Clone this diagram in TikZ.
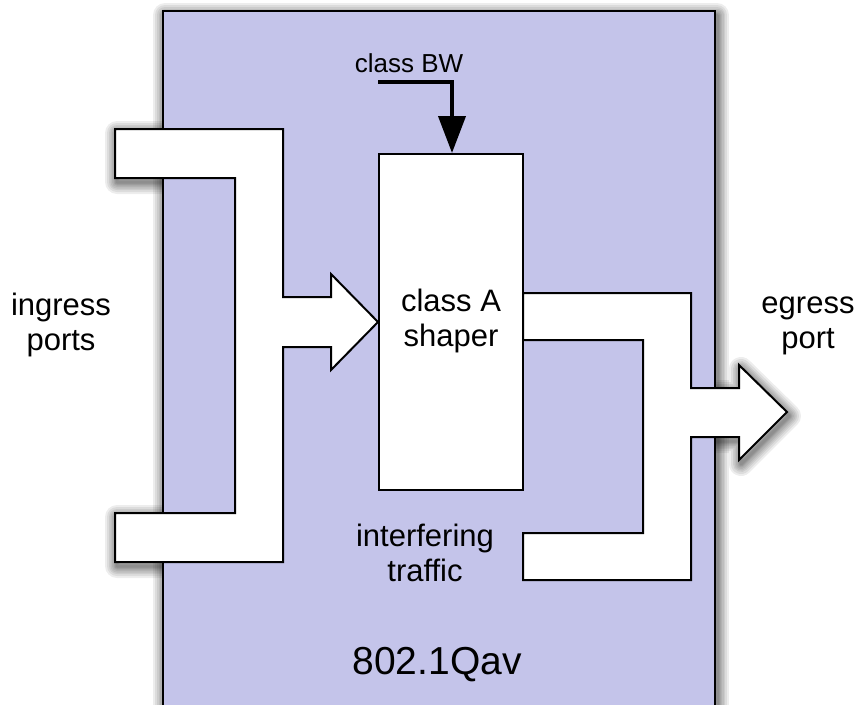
\documentclass[tikz,border=0pt]{standalone}
\usepackage{fontspec}
\setmainfont{Liberation Sans}
\usetikzlibrary{arrows.meta}
\definecolor{boxblue}{RGB}{196,196,234}
\tikzset{
  outline/.style={draw=black, line width=2pt, line join=miter},
  lbl/.style={align=center, inner sep=0pt, font=\fontsize{31}{35}\selectfont},
  shadowstroke/.style={draw=black, draw opacity=0.07, line join=round, fill=none},
}
\begin{document}
\begin{tikzpicture}[x=1pt,y=-1pt]
\useasboundingbox (0,0) rectangle (858,704);
\clip (0,0) rectangle (858,704);
% shadows (stacked soft strokes)
\foreach \w in {24,20,16,13,10,7,5,3} {
  \draw[shadowstroke, line width=\w pt, shift={(2,4)}] (163,11) rectangle (715,730);
  \draw[shadowstroke, line width=\w pt, shift={(2,4)}] (115,129) -- (283,129) -- (283,297) -- (331,297) -- (331,274) -- (378,322) -- (331,370) -- (331,347) -- (283,347) -- (283,562) -- (115,562) -- (115,513) -- (235,513) -- (235,178) -- (115,178) -- cycle;
  \draw[shadowstroke, line width=\w pt, shift={(2,4)}] (523,293) -- (691,293) -- (691,388) -- (739,388) -- (739,365) -- (787,412) -- (739,460) -- (739,437) -- (691,437) -- (691,580) -- (523,580) -- (523,533) -- (643,533) -- (643,340) -- (523,340) -- cycle;
}
% main box
\draw[outline, fill=boxblue] (163,11) rectangle (715,730);
% ingress shape
\draw[outline, fill=white] (115,129) -- (283,129) -- (283,297) -- (331,297) -- (331,274) -- (378,322) -- (331,370) -- (331,347) -- (283,347) -- (283,562) -- (115,562) -- (115,513) -- (235,513) -- (235,178) -- (115,178) -- cycle;
% egress shape
\draw[outline, fill=white] (523,293) -- (691,293) -- (691,388) -- (739,388) -- (739,365) -- (787,412) -- (739,460) -- (739,437) -- (691,437) -- (691,580) -- (523,580) -- (523,533) -- (643,533) -- (643,340) -- (523,340) -- cycle;
% shaper
\node[outline, fill=white, minimum width=144pt, minimum height=336pt, inner sep=0pt] (shaper) at (451,322) {};
\node[lbl] (shapertxt) at (451,321) {class A\\shaper};
% class BW
\node[inner sep=0pt, font=\fontsize{26}{30}\selectfont] (bw) at (409,63) {class BW};
\coordinate (bwstart) at (378,82);
\draw[line width=4pt, line join=miter, -{Triangle[length=37pt,width=27pt,fill=black]}] (bwstart) -| (shaper.north -| 452,0);
% labels
\node[lbl] (ingress) at (61,325) {ingress\\ports};
\node[lbl] (egress) at (808,326) {egress\\port};
\node[lbl] (interf) at (425,553) {interfering\\traffic};
\node[inner sep=0pt, font=\fontsize{39}{44}\selectfont] (qav) at (437,665) {802.1Qav};
\end{tikzpicture}
\end{document}
